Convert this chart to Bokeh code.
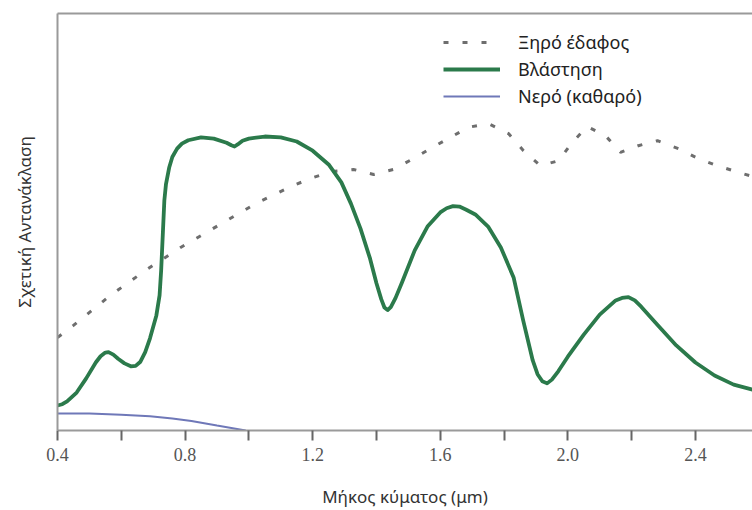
from bokeh.plotting import figure
from bokeh.models import LinearAxis, FixedTicker, Range1d, PrintfTickFormatter
from bokeh.embed import file_html
from bokeh.resources import INLINE

# Wavelength (µm) and relative reflectance (0-100, arbitrary units)
veg_x = [0.40, 0.415, 0.43, 0.46, 0.49, 0.52, 0.535, 0.55, 0.56, 0.575, 0.59, 0.61, 0.63, 0.645,
         0.66, 0.675, 0.69, 0.71, 0.72, 0.725, 0.73, 0.735, 0.74, 0.75, 0.76, 0.775, 0.79, 0.81,
         0.85, 0.89, 0.93, 0.945, 0.955, 0.965, 0.98, 1.00, 1.05, 1.10, 1.15, 1.20, 1.25, 1.29,
         1.32, 1.35, 1.38, 1.40, 1.415, 1.425, 1.435, 1.445, 1.46, 1.48, 1.52, 1.56, 1.60, 1.62,
         1.64, 1.66, 1.68, 1.71, 1.75, 1.79, 1.83, 1.86, 1.89, 1.905, 1.92, 1.935, 1.95, 1.97,
         2.00, 2.05, 2.10, 2.15, 2.17, 2.19, 2.21, 2.23, 2.28, 2.34, 2.40, 2.46, 2.52, 2.58]
veg_y = [6.0, 6.3, 7.0, 9.1, 12.5, 16.3, 17.8, 18.7, 18.8, 18.2, 17.2, 16.1, 15.4, 15.5,
         16.5, 18.8, 22.1, 27.6, 32.4, 38.4, 46.8, 55.2, 59.0, 63.0, 65.6, 67.6, 68.8, 69.6,
         70.3, 70.0, 69.0, 68.4, 68.1, 68.6, 69.5, 70.0, 70.5, 70.3, 69.3, 67.1, 63.8, 59.5,
         54.4, 48.4, 41.2, 35.3, 31.5, 29.5, 28.9, 29.6, 31.8, 35.5, 43.2, 48.9, 52.3, 53.3,
         53.8, 53.7, 53.0, 51.8, 48.9, 43.9, 36.7, 26.4, 16.8, 13.5, 11.8, 11.3, 12.2, 14.2,
         17.7, 23.0, 27.8, 31.2, 31.8, 32.0, 31.2, 29.7, 25.4, 20.4, 16.3, 13.2, 11.0, 9.8]

soil_x = [0.40, 0.45, 0.566, 0.676, 0.786, 0.905, 1.021, 1.14, 1.203, 1.26, 1.328, 1.391,
          1.453, 1.516, 1.569, 1.632, 1.688, 1.751, 1.814, 1.861, 1.914, 1.971, 2.014, 2.061,
          2.118, 2.165, 2.221, 2.281, 2.347, 2.409, 2.469, 2.535, 2.58]
soil_y = [22.3, 25.2, 32.4, 38.4, 43.9, 49.2, 54.4, 58.8, 60.7, 62.1, 62.6, 61.4,
          62.6, 65.2, 67.6, 70.3, 72.7, 73.6, 71.2, 67.1, 63.5, 64.7, 69.1, 72.9,
          70.7, 66.7, 68.3, 69.5, 67.6, 65.2, 63.5, 61.9, 60.9]

water_x = [0.40, 0.50, 0.60, 0.69, 0.76, 0.82, 0.90, 0.99]
water_y = [4.1, 4.1, 3.8, 3.4, 2.9, 2.3, 1.2, 0.0]

major_ticks = [0.4, 0.8, 1.2, 1.6, 2.0, 2.4]
minor_ticks = [0.6, 1.0, 1.4, 1.8, 2.2]

labels = ["Ξηρό έδαφος", "Βλάστηση", "Νερό (καθαρό)"]
x_title = "Μήκος κύματος (μm)"
y_title = "Σχετική Αντανάκλαση"

SANS = "Noto Sans"
AXIS_GRAY = "#9a9a9a"

p = figure(width=752, height=510, output_backend="svg", toolbar_location=None,
           x_range=Range1d(0.4, 2.579), y_range=Range1d(0, 100),
           x_axis_location=None, y_axis_location=None,
           min_border_left=57, min_border_right=0, min_border_top=13, min_border_bottom=80)
p.background_fill_color = "white"
p.border_fill_color = "white"
p.outline_line_color = None
p.xgrid.visible = False
p.ygrid.visible = False

xaxis = LinearAxis(ticker=FixedTicker(ticks=major_ticks, minor_ticks=minor_ticks),
                   formatter=PrintfTickFormatter(format="%.1f"))
xaxis.axis_label = x_title
xaxis.axis_label_text_font = SANS
xaxis.axis_label_text_font_size = "17px"
xaxis.axis_label_text_font_style = "normal"
xaxis.axis_label_text_color = "#333333"
xaxis.axis_label_standoff = 21
xaxis.axis_line_color = AXIS_GRAY
xaxis.axis_line_width = 2
xaxis.major_tick_line_color = "#666666"
xaxis.minor_tick_line_color = "#666666"
xaxis.major_tick_line_width = 2
xaxis.minor_tick_line_width = 2
xaxis.major_tick_in = 0
xaxis.major_tick_out = 10
xaxis.minor_tick_in = 0
xaxis.minor_tick_out = 10
xaxis.major_label_text_font = "Liberation Serif"
xaxis.major_label_text_font_size = "18px"
xaxis.major_label_text_color = "#555555"
xaxis.major_label_standoff = 7
p.add_layout(xaxis, "below")

yaxis = LinearAxis(ticker=FixedTicker(ticks=[]))
yaxis.axis_label = y_title
yaxis.axis_label_text_font = SANS
yaxis.axis_label_text_font_size = "17px"
yaxis.axis_label_text_font_style = "normal"
yaxis.axis_label_text_color = "#333333"
yaxis.axis_label_standoff = 22
yaxis.axis_line_color = AXIS_GRAY
yaxis.axis_line_width = 2
yaxis.major_tick_line_color = None
yaxis.minor_tick_line_color = None
yaxis.major_label_text_font_size = "0px"
p.add_layout(yaxis, "left")

topaxis = LinearAxis(ticker=FixedTicker(ticks=[]))
topaxis.axis_line_color = AXIS_GRAY
topaxis.axis_line_width = 2
topaxis.major_tick_line_color = None
topaxis.minor_tick_line_color = None
topaxis.major_label_text_font_size = "0px"
p.add_layout(topaxis, "above")

p.line(soil_x, soil_y, line_color="#6e6e6e", line_width=3, line_dash="5 14",
       legend_label=labels[0])
p.line(veg_x, veg_y, line_color="#2b7a4b", line_width=3.8, line_join="round",
       legend_label=labels[1])
p.line(water_x, water_y, line_color="#6f78b8", line_width=2, legend_label=labels[2])

lg = p.legend[0]
lg.location = (386, 322)
lg.margin = 0
lg.padding = 0
lg.spacing = 3
lg.glyph_height = 20
lg.label_height = 20
lg.glyph_width = 57
lg.label_standoff = 18
lg.label_text_font = SANS
lg.label_text_font_size = "18px"
lg.label_text_color = "#222222"
lg.border_line_color = None
lg.background_fill_alpha = 0

open("out.html", "w").write(file_html(p, INLINE))
